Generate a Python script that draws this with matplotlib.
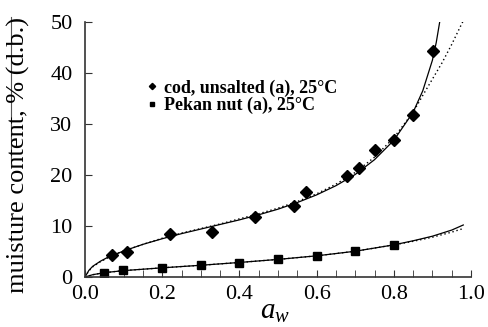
import matplotlib
matplotlib.use('agg')
import matplotlib.pyplot as plt
from matplotlib.lines import Line2D

# measured points
cod_aw = [0.071, 0.109, 0.22, 0.33, 0.44, 0.541, 0.572, 0.68, 0.711, 0.751, 0.80, 0.85, 0.902]
cod_m = [4.4, 5.0, 8.4, 8.9, 11.8, 13.9, 16.6, 19.9, 21.3, 24.9, 26.9, 31.8, 44.4]
pecan_aw = [0.05, 0.099, 0.2, 0.3, 0.4, 0.5, 0.6, 0.7, 0.8]
pecan_m = [0.85, 1.3, 1.76, 2.35, 2.8, 3.5, 4.2, 5.15, 6.3]

# fitted curves
cod_fit_aw = [0.0, 0.01, 0.02, 0.04, 0.06, 0.08, 0.1, 0.15, 0.2, 0.25, 0.3, 0.35, 0.4,
              0.45, 0.5, 0.55, 0.6, 0.65, 0.7, 0.75, 0.8, 0.85, 0.875, 0.9, 0.91, 0.92]
cod_fit_m = [0.0, 1.3, 2.1, 3.1, 3.9, 4.5, 5.1, 6.4, 7.5, 8.5, 9.4, 10.3, 11.2,
             12.2, 13.3, 14.6, 16.1, 17.9, 20.1, 23.0, 26.8, 32.3, 36.5, 42.5, 46.0, 50.5]
cod_fit2_aw = [0.0, 0.01, 0.02, 0.04, 0.06, 0.08, 0.1, 0.15, 0.2, 0.25, 0.3, 0.35, 0.4,
               0.45, 0.5, 0.55, 0.6, 0.65, 0.7, 0.75, 0.8, 0.85, 0.875, 0.9, 0.925, 0.95, 0.975, 0.985]
cod_fit2_m = [0.0, 1.2, 2.0, 3.0, 3.8, 4.5, 5.1, 6.4, 7.6, 8.6, 9.5, 10.4, 11.4,
              12.4, 13.5, 14.8, 16.3, 18.2, 20.5, 23.5, 27.3, 32.3, 35.6, 38.8, 42.0, 45.6, 49.5, 51.0]
pecan_fit_aw = [0.0, 0.02, 0.05, 0.1, 0.2, 0.3, 0.4, 0.5, 0.6, 0.7, 0.8, 0.85, 0.9, 0.95, 0.98]
pecan_fit_m = [0.0, 0.45, 0.85, 1.25, 1.8, 2.3, 2.85, 3.45, 4.15, 5.05, 6.3, 7.1, 8.0, 9.2, 10.2]
pecan_fit2_m = [0.0, 0.45, 0.85, 1.25, 1.8, 2.3, 2.85, 3.45, 4.15, 5.05, 6.3, 7.0, 7.8, 8.8, 9.5]

labels = ["cod, unsalted (a), 25°C", "Pekan nut (a), 25°C"]

plt.rcParams['font.family'] = ['Liberation Serif', 'DejaVu Serif']
plt.rcParams['mathtext.fontset'] = 'custom'
plt.rcParams['mathtext.it'] = 'Liberation Serif:italic'
plt.rcParams['mathtext.rm'] = 'Liberation Serif'

fig = plt.figure(figsize=(4.88, 3.27), dpi=100)
ax = fig.add_axes([85 / 488, 1 - 277 / 327, 386 / 488, 255 / 327])

ax.plot(cod_fit_aw, cod_fit_m, color='black', lw=0.9)
ax.plot(cod_fit2_aw, cod_fit2_m, color='black', lw=1.0, ls=(0, (1, 2)))
ax.plot(pecan_fit_aw, pecan_fit_m, color='black', lw=0.9)
ax.plot(pecan_fit_aw, pecan_fit2_m, color='black', lw=1.0, ls=(0, (1, 2)))
h1, = ax.plot(cod_aw, cod_m, 'D', color='black', ms=5.8, ls='none', label=labels[0])
h2, = ax.plot(pecan_aw, pecan_m, 's', color='black', ms=5.8, ls='none', label=labels[1])

ax.set_xlim(0, 1.0)
ax.set_ylim(0, 50)
ax.set_xticks([0.0, 0.2, 0.4, 0.6, 0.8, 1.0])
ax.set_xticks([i * 0.05 for i in range(21)], minor=True)
ax.set_yticks([0, 10, 20, 30, 40, 50])
ax.set_xticklabels(['0.0', '0.2', '0.4', '0.6', '0.8', '1.0'])
ax.tick_params(axis='both', which='both', direction='in', labelsize=16, color='#333333')
ax.tick_params(axis='x', which='both', length=5, pad=6)
ax.tick_params(axis='y', which='major', length=5, pad=9)
for s in ['top', 'right']:
    ax.spines[s].set_visible(False)
for s in ['left', 'bottom']:
    ax.spines[s].set_color('#333333')
    ax.spines[s].set_linewidth(1.2)

leg = ax.legend(handles=[h1, h2], loc='upper left', bbox_to_anchor=(0.162, 0.775),
                frameon=False, markerscale=0.55, handlelength=0.5, handletextpad=0.4,
                labelspacing=0.0, borderpad=0, borderaxespad=0,
                prop={'family': 'Liberation Serif', 'weight': 'bold', 'size': 13})

fig.text(18 / 488, 1 - 155 / 327, "muisture content, % (d.b.)", rotation=90,
         ha='center', va='center', fontsize=19)
fig.add_artist(Line2D([11 / 488, 11 / 488], [1 - 165 / 327, 1 - 17 / 327], color='#555555', lw=0.8))
fig.text(275 / 488, 1 - 319 / 327, r"$a_w$", ha='center', va='baseline', fontsize=21)

plt.savefig('out.png', dpi=100)
plt.close(fig)
